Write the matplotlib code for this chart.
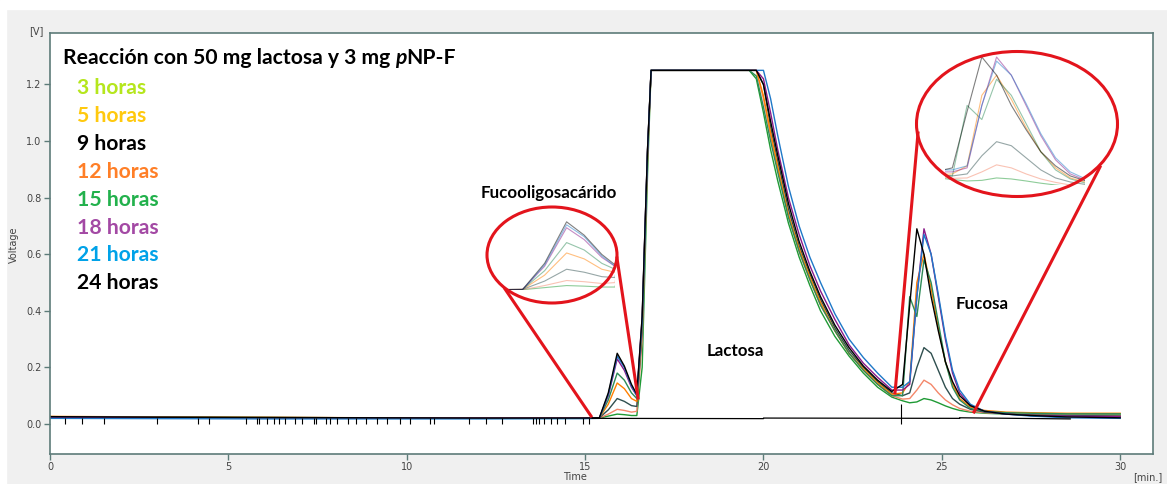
import matplotlib
matplotlib.use("Agg")
import matplotlib.pyplot as plt
from matplotlib.patches import Ellipse, Rectangle

W, H = 1167, 484

# tiempo (min)
t = [0.0, 3.0, 6.0, 9.0, 12.0, 15.0,
     15.4, 15.65, 15.9, 16.1, 16.3, 16.45, 16.6, 16.75, 16.85,
     19.6, 19.8, 20.0, 20.2, 20.4, 20.7, 21.0, 21.3, 21.6, 22.0, 22.4, 22.8, 23.2, 23.6,
     23.9, 24.1, 24.3, 24.5, 24.7, 24.9, 25.1, 25.3, 25.5, 25.8, 26.2, 26.8, 27.5, 28.5, 30.0]

# señal (V) de cada reaccion
v_3h = [0.024, 0.023, 0.022, 0.021, 0.020, 0.020,
        0.021, 0.028, 0.035, 0.033, 0.030, 0.030, 0.20, 0.88, 1.25,
        1.25, 1.22, 1.10, 0.97, 0.86, 0.71, 0.59, 0.49, 0.40, 0.31, 0.24, 0.18, 0.13, 0.095,
        0.082, 0.075, 0.078, 0.090, 0.085, 0.075, 0.064, 0.055, 0.048, 0.042, 0.038, 0.035, 0.033, 0.032, 0.032]
v_5h = [0.025, 0.024, 0.022, 0.021, 0.021, 0.020,
        0.021, 0.035, 0.052, 0.048, 0.042, 0.045, 0.30, 0.93, 1.25,
        1.25, 1.25, 1.15, 1.02, 0.90, 0.74, 0.61, 0.51, 0.42, 0.33, 0.25, 0.19, 0.14, 0.10,
        0.088, 0.090, 0.12, 0.155, 0.14, 0.11, 0.085, 0.068, 0.055, 0.045, 0.040, 0.036, 0.033, 0.031, 0.030]
v_9h = [0.026, 0.024, 0.023, 0.022, 0.021, 0.021,
        0.022, 0.050, 0.090, 0.080, 0.065, 0.062, 0.33, 0.95, 1.25,
        1.25, 1.25, 1.20, 1.05, 0.93, 0.76, 0.63, 0.53, 0.44, 0.34, 0.26, 0.20, 0.15, 0.11,
        0.10, 0.11, 0.20, 0.27, 0.25, 0.19, 0.13, 0.090, 0.070, 0.052, 0.042, 0.036, 0.032, 0.030, 0.028]
v_12h = [0.027, 0.025, 0.024, 0.022, 0.021, 0.021,
         0.022, 0.070, 0.145, 0.125, 0.090, 0.080, 0.36, 0.96, 1.25,
         1.25, 1.25, 1.16, 1.03, 0.91, 0.74, 0.62, 0.52, 0.43, 0.33, 0.25, 0.195, 0.145, 0.105,
         0.11, 0.15, 0.50, 0.60, 0.48, 0.34, 0.22, 0.14, 0.090, 0.060, 0.048, 0.042, 0.040, 0.038, 0.038]
v_15h = [0.025, 0.024, 0.023, 0.022, 0.021, 0.021,
         0.022, 0.085, 0.18, 0.155, 0.11, 0.090, 0.37, 0.97, 1.25,
         1.25, 1.23, 1.12, 1.00, 0.89, 0.73, 0.61, 0.51, 0.42, 0.33, 0.25, 0.19, 0.14, 0.10,
         0.10, 0.45, 0.38, 0.58, 0.50, 0.36, 0.22, 0.13, 0.085, 0.055, 0.045, 0.040, 0.038, 0.036, 0.036]
v_18h = [0.024, 0.023, 0.022, 0.021, 0.021, 0.021,
         0.022, 0.10, 0.23, 0.19, 0.13, 0.10, 0.38, 0.97, 1.25,
         1.25, 1.25, 1.22, 1.10, 0.97, 0.80, 0.67, 0.56, 0.47, 0.37, 0.28, 0.215, 0.165, 0.12,
         0.12, 0.14, 0.45, 0.69, 0.60, 0.45, 0.30, 0.18, 0.11, 0.065, 0.045, 0.035, 0.030, 0.028, 0.026]
v_21h = [0.020, 0.019, 0.018, 0.018, 0.018, 0.019,
         0.020, 0.105, 0.24, 0.20, 0.135, 0.10, 0.36, 0.96, 1.25,
         1.25, 1.25, 1.25, 1.15, 1.02, 0.84, 0.70, 0.59, 0.50, 0.39, 0.30, 0.235, 0.18, 0.13,
         0.13, 0.15, 0.45, 0.67, 0.60, 0.46, 0.31, 0.19, 0.12, 0.070, 0.045, 0.035, 0.028, 0.022, 0.020]
v_24h = [0.026, 0.024, 0.023, 0.022, 0.021, 0.021,
         0.022, 0.11, 0.25, 0.205, 0.14, 0.105, 0.38, 0.97, 1.25,
         1.25, 1.25, 1.20, 1.07, 0.95, 0.78, 0.645, 0.54, 0.45, 0.35, 0.27, 0.205, 0.155, 0.115,
         0.14, 0.42, 0.69, 0.60, 0.45, 0.33, 0.22, 0.15, 0.10, 0.065, 0.045, 0.035, 0.030, 0.025, 0.022]

series = [v_3h, v_5h, v_9h, v_12h, v_15h, v_18h, v_21h, v_24h]
line_colors = ['#1f9a35', '#f4876a', '#2f4f4f', '#ff8000', '#2e8b57', '#8b1a89', '#1e78c8', '#000000']

labels = ['3 horas', '5 horas', '9 horas', '12 horas', '15 horas', '18 horas', '21 horas', '24 horas']
label_colors = ['#b5e61d', '#ffc90e', '#000000', '#ff7f27', '#22b14c', '#a349a4', '#00a2e8', '#000000']

# marcas de pico del integrador (min)
marcas = [0.43, 0.91, 1.52, 3.00, 4.16, 4.45, 5.50, 5.79, 5.86, 6.08, 6.27, 6.43, 6.59,
          6.88, 7.07, 7.40, 7.47, 7.74, 7.86, 8.04, 8.34, 8.57, 8.86, 9.16, 9.45, 9.81,
          10.10, 10.64, 10.77, 11.74, 12.22, 12.68, 13.53, 13.61, 13.70, 13.86, 14.04,
          14.22, 14.44, 14.95, 15.11]
# linea base del integrador
base_t = [15.2, 20.0, 20.0, 25.5, 25.5, 28.6]
base_v = [0.020, 0.019, 0.021, 0.020, 0.022, 0.018]

FONT = ['Lato', 'DejaVu Sans']
spine_c = '#5d7b79'


def px_rect(x0, y0, x1, y1):
    return [x0 / W, 1 - y1 / H, (x1 - x0) / W, (y1 - y0) / H]


fig = plt.figure(figsize=(W / 100, H / 100), dpi=100, facecolor='#f0f0f0')

ax = fig.add_axes(px_rect(50, 33, 1153, 454))
ax.set_xlim(0, 30.92)
ax.set_ylim(-0.106, 1.382)
for s, c in zip(series, line_colors):
    ax.plot(t, s, color=c, lw=1.0)
ax.plot(base_t, base_v, color='black', lw=0.9)
ax.vlines(marcas, 0.0, 0.022, color='black', lw=0.8)
ax.vlines([23.85], 0.0, 0.07, color='black', lw=0.8)

ax.set_xticks(range(0, 31, 5))
ax.set_yticks([0.0, 0.2, 0.4, 0.6, 0.8, 1.0, 1.2])
ax.set_yticklabels(['0.0', '0.2', '0.4', '0.6', '0.8', '1.0', '1.2'])
ax.tick_params(direction='out', length=4, width=1, color=spine_c,
               labelsize=7, labelcolor='#444444', pad=2)
for sp in ax.spines.values():
    sp.set_color(spine_c)
    sp.set_linewidth(1.2)

# capa superior en pixeles para anotaciones
ov = fig.add_axes([0, 0, 1, 1], zorder=5)
ov.set_xlim(0, W)
ov.set_ylim(H, 0)
ov.axis('off')
ov.add_patch(Rectangle((0, 0), W, 9, color='white', zorder=0))
ov.add_patch(Rectangle((0, 0), 6, H, color='white', zorder=0))

ov.text(36, 31, '[V]', fontsize=7, color='#444444', ha='center', va='center')
ov.text(14, 245, 'Voltage', fontsize=7, color='#444444', rotation=90, ha='center', va='center')
ov.text(1148, 477, '[min.]', fontsize=7, color='#444444', ha='center', va='center')
ov.text(575, 477, 'Time', fontsize=7, color='#444444', ha='center', va='center')

# titulo con la p en cursiva
renderer = fig.canvas.get_renderer()
x = 63
for piece, style in [('Reacción con 50 mg lactosa y 3 mg ', 'normal'), ('p', 'italic'), ('NP-F', 'normal')]:
    tx = ov.text(x, 58, piece, fontsize=15.2, fontweight='bold', fontstyle=style,
                 family=FONT, ha='left', va='center')
    x = tx.get_window_extent(renderer).x1

for i, (lab, c) in enumerate(zip(labels, label_colors)):
    ov.text(77, 88 + i * 27.9, lab, fontsize=15.2, fontweight='bold', color=c,
            family=FONT, ha='left', va='center')

ov.text(549, 193, 'Fucooligosacárido', fontsize=12.2, fontweight='bold', family=FONT,
        ha='center', va='center')
ov.text(735, 351, 'Lactosa', fontsize=12.2, fontweight='bold', family=FONT,
        ha='center', va='center')
ov.text(982, 304, 'Fucosa', fontsize=12.2, fontweight='bold', family=FONT,
        ha='center', va='center')

# elipses de ampliacion
red = '#e3141c'
ov.add_patch(Ellipse((552, 255), 130, 96, fill=False, ec=red, lw=2.2))
ov.plot([505, 591], [289, 416], color=red, lw=2.2)
ov.plot([617, 638], [258, 398], color=red, lw=2.2)
ov.add_patch(Ellipse((1017, 124), 201, 145, fill=False, ec=red, lw=2.2))
ov.plot([918, 895], [133, 393], color=red, lw=2.2)
ov.plot([1100, 974], [167, 412], color=red, lw=2.2)

ins1 = fig.add_axes(px_rect(505, 207, 615, 290), zorder=4)
ins1.set_xlim(15.2, 16.45)
ins1.set_ylim(0.02, 0.30)
ins2 = fig.add_axes(px_rect(945, 52, 1085, 185), zorder=4)
ins2.set_xlim(23.8, 25.7)
ins2.set_ylim(0.055, 0.715)
for ins in (ins1, ins2):
    for s, c in zip(series, line_colors):
        ins.plot(t, s, color=c, lw=0.8, alpha=0.5)
    ins.axis('off')

fig.savefig('out.png', dpi=100, facecolor=fig.get_facecolor())
